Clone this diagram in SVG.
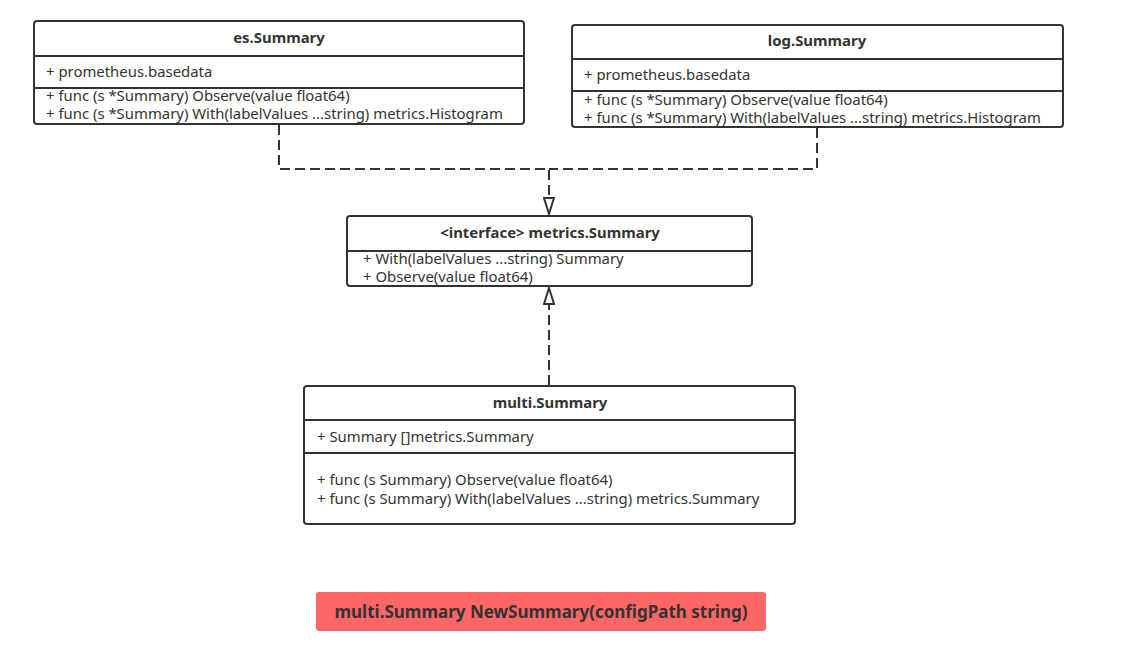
<svg xmlns="http://www.w3.org/2000/svg" width="1137" height="660" viewBox="0 0 1137 660">
<style>
.box{fill:#fff;stroke:#333;stroke-width:2}
.div{stroke:#333;stroke-width:2}
.t{font-family:"Noto Sans","Open Sans",sans-serif;font-size:14.9px;fill:#333}
.b{font-weight:bold;text-anchor:middle}
.con{fill:none;stroke:#333;stroke-width:2;stroke-dasharray:10,5}
</style>
<defs>
<marker id="tri" viewBox="0 0 18 12" refX="17" refY="6" markerWidth="18" markerHeight="12" markerUnits="userSpaceOnUse" orient="auto">
<path d="M1,1 L17,6 L1,11 Z" fill="#fff" stroke="#333" stroke-width="2"/>
</marker>
</defs>
<rect width="1137" height="660" fill="#fff"/>
<g id="connectors">
<path class="con" d="M279,125 V169 H549 V214" marker-end="url(#tri)"/>
<path class="con" d="M817,128 V169 H549"/>
<path class="con" d="M549,385 V288" marker-end="url(#tri)"/>
</g>
<g id="es">
<rect class="box" x="34" y="21" width="490" height="103" rx="3"/>
<line class="div" x1="34" y1="56" x2="524" y2="56"/>
<line class="div" x1="34" y1="88" x2="524" y2="88"/>
<text class="t b" x="279" y="43">es.Summary</text>
<text class="t" x="46" y="77">+ prometheus.basedata</text>
<text class="t" x="46" y="101">+ func (s *Summary) Observe(value float64)</text>
<text class="t" x="46" y="119">+ func (s *Summary) With(labelValues ...string) metrics.Histogram</text>
</g>
<g id="log">
<rect class="box" x="572" y="25" width="491" height="102" rx="3"/>
<line class="div" x1="572" y1="59" x2="1063" y2="59"/>
<line class="div" x1="572" y1="91" x2="1063" y2="91"/>
<text class="t b" x="817" y="46">log.Summary</text>
<text class="t" x="584" y="80">+ prometheus.basedata</text>
<text class="t" x="584" y="105">+ func (s *Summary) Observe(value float64)</text>
<text class="t" x="584" y="123">+ func (s *Summary) With(labelValues ...string) metrics.Histogram</text>
</g>
<g id="iface">
<rect class="box" x="347" y="216" width="405" height="70" rx="3"/>
<line class="div" x1="347" y1="251" x2="752" y2="251"/>
<text class="t b" x="550" y="238">&lt;interface&gt; metrics.Summary</text>
<text class="t" x="363" y="264">+ With(labelValues ...string) Summary</text>
<text class="t" x="363" y="282">+ Observe(value float64)</text>
</g>
<g id="multi">
<rect class="box" x="304" y="386" width="491" height="138" rx="3"/>
<line class="div" x1="304" y1="420" x2="795" y2="420"/>
<line class="div" x1="304" y1="453" x2="795" y2="453"/>
<text class="t b" x="550" y="408">multi.Summary</text>
<text class="t" x="317" y="442">+ Summary []metrics.Summary</text>
<text class="t" x="317" y="485">+ func (s Summary) Observe(value float64)</text>
<text class="t" x="317" y="504">+ func (s Summary) With(labelValues ...string) metrics.Summary</text>
</g>
<g id="ctor">
<rect x="316" y="592" width="450" height="39" rx="3" fill="#ff6666"/>
<text class="t b" x="541" y="618" style="font-size:17px">multi.Summary NewSummary(configPath string)</text>
</g>
</svg>
